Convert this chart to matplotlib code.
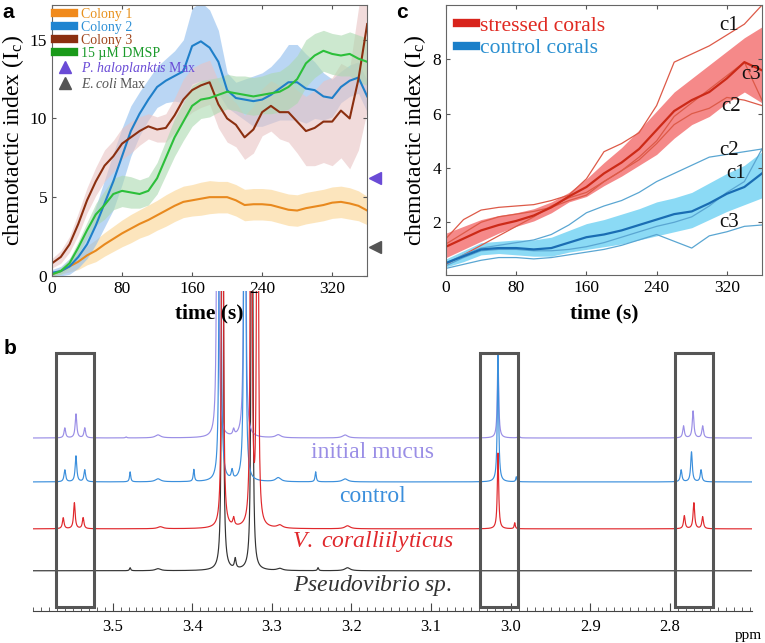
import numpy as np
import matplotlib.pyplot as plt
from matplotlib.lines import Line2D
from matplotlib.patches import Rectangle

plt.rcParams['font.family'] = ['Liberation Serif', 'DejaVu Serif']
plt.rcParams['mathtext.fontset'] = 'custom'
plt.rcParams['mathtext.rm'] = 'Liberation Serif'
plt.rcParams['mathtext.it'] = 'Liberation Serif:italic'

# ---------------- panel a data (chemotactic index vs time) ----------------
t_a = list(range(0, 361, 10))
colony1 = [0.1, 0.3, 0.6, 0.9, 1.3, 1.6, 2.0, 2.35, 2.7, 3.0, 3.3, 3.55, 3.85, 4.15, 4.45, 4.7, 4.8, 4.9, 5.0,
           5.0, 5.0, 4.8, 4.5, 4.55, 4.55, 4.5, 4.35, 4.2, 4.15, 4.3, 4.4, 4.5, 4.65, 4.7, 4.6, 4.45, 4.15]
colony1_sd = [0.1, 0.2, 0.35, 0.5, 0.6, 0.7, 0.75, 0.8, 0.85, 0.9, 0.9, 0.95, 0.95, 1.0, 1.0, 1.0, 1.0, 1.05, 1.05,
              1.0, 1.0, 1.0, 1.0, 1.0, 1.0, 1.0, 1.0, 1.0, 1.0, 1.0, 1.0, 1.0, 1.0, 1.0, 1.0, 0.95, 0.9]
colony2 = [0.2, 0.3, 0.6, 1.2, 2.0, 3.2, 4.6, 6.0, 7.6, 9.2, 10.3, 11.2, 12.0, 12.4, 12.7, 13.0, 14.6, 14.9, 14.5,
           13.6, 11.8, 11.3, 11.2, 11.1, 11.2, 11.5, 11.9, 12.3, 12.3, 11.9, 11.8, 11.4, 11.3, 12.0, 12.4, 12.6, 11.4]
colony2_sd = [0.2, 0.3, 0.5, 0.7, 0.9, 1.2, 1.5, 1.8, 1.8, 1.6, 1.4, 1.3, 1.3, 1.4, 1.6, 2.0, 2.4, 2.5, 2.4,
              2.0, 1.1, 1.0, 1.3, 1.6, 1.7, 1.8, 2.0, 2.4, 2.4, 2.2, 1.8, 1.5, 1.2, 1.0, 1.0, 1.0, 1.0]
colony3 = [0.8, 1.2, 2.0, 3.3, 4.8, 6.0, 7.0, 7.6, 8.4, 8.8, 9.2, 9.5, 9.3, 9.4, 10.2, 11.2, 11.8, 12.1, 12.3,
           10.9, 10.0, 9.6, 8.8, 9.3, 10.4, 10.8, 10.4, 10.4, 9.8, 9.2, 9.4, 9.8, 9.8, 10.5, 10.0, 12.5, 16.0]
colony3_sd = [0.3, 0.4, 0.5, 0.7, 0.8, 0.9, 1.0, 1.0, 1.0, 1.0, 0.9, 0.8, 0.8, 0.9, 1.1, 1.3, 1.4, 1.4, 1.4,
              1.5, 1.5, 1.4, 1.4, 1.5, 1.5, 1.6, 1.7, 1.9, 2.0, 2.2, 2.4, 2.6, 2.8, 3.0, 3.2, 4.5, 5.5]
dmsp = [0.1, 0.3, 0.8, 1.8, 2.9, 3.9, 4.5, 5.2, 5.4, 5.3, 5.2, 5.4, 6.2, 7.5, 8.8, 9.8, 10.8, 11.2, 11.3,
        11.5, 11.7, 11.6, 11.5, 11.4, 11.5, 11.6, 11.7, 12.0, 12.5, 13.5, 14.0, 14.3, 14.1, 14.0, 14.1, 13.8, 13.6]
dmsp_sd = [0.1, 0.2, 0.3, 0.4, 0.5, 0.7, 0.9, 1.0, 1.0, 1.0, 0.9, 0.9, 1.0, 1.1, 1.2, 1.2, 1.3, 1.2, 1.2,
           1.1, 1.1, 1.1, 1.2, 1.2, 1.2, 1.3, 1.3, 1.4, 1.5, 1.5, 1.4, 1.3, 1.3, 1.3, 1.4, 1.5, 1.5]
halo_max = 6.2
ecoli_max = 1.85

# ---------------- panel c data ----------------
t_c = list(range(0, 361, 20))
stressed_mean = [1.1, 1.4, 1.7, 1.9, 2.05, 2.25, 2.55, 2.95, 3.3, 3.8, 4.2, 4.7, 5.4, 6.1, 6.5, 6.8, 7.3, 7.9, 7.6]
stressed_lo = [0.7, 1.0, 1.3, 1.6, 1.85, 2.05, 2.35, 2.75, 2.95, 3.35, 3.7, 4.1, 4.5, 5.1, 5.6, 5.9, 6.4, 6.8, 6.4]
stressed_hi = [1.6, 1.85, 2.1, 2.25, 2.35, 2.5, 2.75, 3.1, 3.6, 4.2, 4.75, 5.4, 6.1, 6.8, 7.3, 7.8, 8.3, 8.8, 9.2]
stressed_c1 = [1.4, 2.1, 2.45, 2.55, 2.6, 2.65, 2.8, 3.0, 3.6, 4.6, 4.9, 5.3, 6.3, 7.9, 8.2, 8.5, 8.9, 9.3, 10.0]
stressed_c2 = [1.2, 1.6, 2.0, 2.2, 2.3, 2.4, 2.55, 2.8, 3.0, 3.5, 3.9, 4.3, 4.9, 5.6, 6.0, 6.2, 6.6, 6.5, 6.3]
stressed_c3 = [0.45, 0.8, 1.15, 1.5, 1.85, 2.2, 2.6, 2.9, 3.1, 3.5, 3.9, 4.4, 5.0, 5.9, 6.4, 6.9, 7.4, 7.9, 6.5]
control_mean = [0.5, 0.75, 1.0, 1.05, 1.05, 1.0, 1.05, 1.25, 1.45, 1.55, 1.7, 1.9, 2.1, 2.3, 2.4, 2.7, 3.05, 3.3, 3.8]
control_lo = [0.35, 0.55, 0.8, 0.85, 0.8, 0.75, 0.75, 0.9, 1.0, 1.1, 1.2, 1.35, 1.5, 1.65, 1.8, 2.1, 2.4, 2.65, 2.9]
control_hi = [0.65, 0.95, 1.25, 1.3, 1.35, 1.35, 1.45, 1.7, 1.95, 2.1, 2.3, 2.5, 2.75, 2.9, 3.1, 3.45, 3.8, 4.1, 4.6]
control_c1 = [0.4, 0.7, 0.95, 1.0, 1.0, 0.95, 0.95, 1.0, 1.1, 1.25, 1.45, 1.65, 1.85, 2.0, 2.2, 2.6, 3.1, 3.5, 4.7]
control_c2 = [0.5, 0.8, 1.05, 1.15, 1.25, 1.35, 1.55, 1.9, 2.35, 2.6, 2.8, 3.1, 3.5, 3.8, 4.1, 4.4, 4.5, 4.6, 4.7]
control_c3 = [0.3, 0.45, 0.6, 0.7, 0.7, 0.65, 0.7, 0.8, 0.9, 1.0, 1.15, 1.35, 1.55, 1.3, 1.05, 1.5, 1.65, 1.85, 1.9]
# curve labels: (text, time, value)
c_labels = [('c1', 323, 9.25), ('c3', 348, 7.45), ('c2', 325, 6.25),
            ('c2', 323, 4.65), ('c1', 331, 3.8), ('c3', 323, 2.0)]

# ---------------- panel b data (1H NMR peak tables: ppm, height, half width) ----------------
mucus_peaks = [(3.560, 10, 0.0012), (3.546, 24, 0.0012), (3.535, 10, 0.0012), (3.483, 1, 0.001),
               (3.443, 3, 0.004), (3.368, 1500, 0.0006), (3.348, 6, 0.0012), (3.334, 1500, 0.0006),
               (3.292, 3, 0.004), (3.208, 3, 0.004), (3.016, 84, 0.0010), (2.990, 4, 0.0008),
               (2.783, 12, 0.0012), (2.771, 27, 0.0012), (2.759, 12, 0.0012)]
control_peaks = [(3.560, 12, 0.0012), (3.546, 26, 0.0012), (3.535, 12, 0.0012), (3.478, 10, 0.0009),
                 (3.443, 3, 0.004), (3.398, 12, 0.0009), (3.365, 1500, 0.0006), (3.350, 9, 0.0012),
                 (3.334, 1500, 0.0006), (3.292, 4, 0.004), (3.245, 10, 0.0009), (3.208, 3, 0.004),
                 (3.016, 128, 0.0010), (2.993, 5, 0.0008),
                 (2.786, 12, 0.0012), (2.773, 30, 0.0012), (2.761, 12, 0.0012)]
vibrio_peaks = [(3.562, 11, 0.0012), (3.548, 26, 0.0012), (3.537, 11, 0.0012), (3.440, 2, 0.004),
                (3.362, 1500, 0.0006), (3.348, 8, 0.0012), (3.326, 1500, 0.0006), (3.318, 1500, 0.0006),
                (3.290, 3, 0.004), (3.205, 3, 0.004), (3.016, 76, 0.0010), (2.995, 6, 0.0008),
                (2.782, 13, 0.0012), (2.770, 26, 0.0012), (2.759, 12, 0.0012)]
pseudo_peaks = [(3.478, 3, 0.0009), (3.443, 2, 0.004), (3.362, 1500, 0.0006), (3.346, 10, 0.0012),
                (3.325, 1500, 0.0006), (3.290, 2, 0.004), (3.242, 3, 0.0009), (3.205, 3, 0.004)]
# name, peaks, colour, baseline offset, label height, drawing order
spectra = [(r'$\mathit{Pseudovibrio\,\,sp.}$', pseudo_peaks, '#333333', 40, 25, 1),
           ('initial mucus', mucus_peaks, '#9a8ee6', 173, 158, 2),
           ('control', control_peaks, '#3b8fdc', 129, 114, 3),
           (r'$\mathit{V.\,\,coralliilyticus}$', vibrio_peaks, '#e0282c', 82, 69, 4)]
boxes = [(3.571, 3.523), (3.0385, 2.9907), (2.7935, 2.7457)]

fig = plt.figure(figsize=(7.65, 6.43), dpi=100)

# ================= panel b (drawn first, transparent, so panel a/c text stays visible) =================
axb = fig.add_axes([0.0431, 0.0502, 0.9394, 0.4979])
axb.set_facecolor('none')
ppm = np.linspace(3.6, 2.69, 12000)
for name, peaks, col, base, ty, z in spectra:
    y = np.zeros_like(ppm)
    for p0, h, w in peaks:
        y += h * w ** 2 / ((ppm - p0) ** 2 + w ** 2)
    axb.plot(ppm, base + y, color=col, lw=0.85, zorder=z)
    axb.text(3.173, ty, name, color=col, fontsize=17, ha='center', va='center')
for x0, x1 in boxes:
    axb.add_patch(Rectangle((x1, 3.7), x0 - x1, 254, fill=False, ec='#555555', lw=2.2, zorder=6))
axb.set_xlim(3.6, 2.6975)
axb.set_ylim(0, 320.7)
axb.set_xticks(np.arange(3.5, 2.75, -0.1))
axb.set_xticklabels(['3.5', '3.4', '3.3', '3.2', '3.1', '3.0', '2.9', '2.8'])
axb.set_xticks(np.arange(3.6, 2.695, -0.01), minor=True)
axb.set_yticks([])
for s in ('top', 'left', 'right'):
    axb.spines[s].set_visible(False)
axb.spines['bottom'].set_color('#444')
axb.tick_params(axis='x', which='major', direction='in', length=6, labelsize=12, pad=6, color='#444')
axb.tick_params(axis='x', which='minor', direction='in', length=3, color='#444')
fig.text(748 / 765, 1 - 636 / 643, 'ppm', fontsize=11, ha='center', va='center')

# ================= panel a =================
ax = fig.add_axes([0.068, 0.571, 0.412, 0.421])
series_a = [(colony1, colony1_sd, '#e8891e', '#fbd592'),
            (colony2, colony2_sd, '#1f7fc9', '#8dbcee'),
            (colony3, colony3_sd, '#8b2f10', '#e9c3c3'),
            (dmsp, dmsp_sd, '#2cbf3a', '#abd9af')]
for m, s, lc, bc in series_a:
    m = np.array(m)
    s = np.array(s)
    ax.fill_between(t_a, m - s, m + s, color=bc, alpha=0.6, lw=0)
for m, s, lc, bc in series_a:
    ax.plot(t_a, m, color=lc, lw=1.5)
ax.plot([369], [halo_max], marker='<', color='#6a4bd6', ms=9, clip_on=False)
ax.plot([369], [ecoli_max], marker='<', color='#555555', ms=9, clip_on=False)
ax.set_xlim(0, 360)
ax.set_ylim(0, 17.2)
ax.set_xticks([0, 80, 160, 240, 320])
ax.set_yticks([0, 5, 10, 15])
ax.tick_params(direction='in', top=True, right=True, labelsize=12.5, length=3, color='#555')
for sp in ax.spines.values():
    sp.set_color('#666')
ax.set_xlabel('time (s)', fontsize=15.5, fontweight='bold', labelpad=5)
ax.set_ylabel(r'chemotactic index (I$_\mathrm{c}$)', fontsize=17, labelpad=3)

handles = [Line2D([], [], color='#f08a1c', lw=6),
           Line2D([], [], color='#1f84d0', lw=6),
           Line2D([], [], color='#8b2f10', lw=6),
           Line2D([], [], color='#1a9a1a', lw=6),
           Line2D([], [], color='#6a4bd6', marker='^', ls='', ms=8),
           Line2D([], [], color='#555555', marker='^', ls='', ms=8)]
labels = ['Colony 1', 'Colony 2', 'Colony 3', '15 \u00b5M DMSP',
          r'$\mathit{P.\,haloplanktis}$ Max', r'$\mathit{E.coli}$ Max']
ax.legend(handles, labels, loc='upper left', frameon=False, fontsize=10, handlelength=1.4,
          handletextpad=0.5, labelspacing=0.0, borderaxespad=0.1, borderpad=0.1,
          labelcolor=['#e8921e', '#2e90d6', '#a0451c', '#1a9a2a', '#6a4bd6', '#555555'])

# ================= panel c =================
axc = fig.add_axes([0.583, 0.572, 0.413, 0.42])
axc.fill_between(t_c, stressed_lo, stressed_hi, color='#f47c7c', alpha=0.9, lw=0)
axc.fill_between(t_c, control_lo, control_hi, color='#7fd6f4', alpha=0.9, lw=0)
for line in (stressed_c1, stressed_c2, stressed_c3):
    axc.plot(t_c, line, color='#dd5a48', lw=0.9)
for line in (control_c1, control_c2, control_c3):
    axc.plot(t_c, line, color='#5aa6d2', lw=0.9)
axc.plot(t_c, stressed_mean, color='#cc2a18', lw=1.6)
axc.plot(t_c, control_mean, color='#1a6db3', lw=1.6)
for txt, tx, ty in c_labels:
    axc.text(tx, ty, txt, fontsize=15, ha='center', va='center', color='#111')
axc.set_xlim(0, 360)
axc.set_ylim(0.05, 10)
axc.set_xticks([0, 80, 160, 240, 320])
axc.set_yticks([2, 4, 6, 8])
axc.tick_params(direction='in', top=True, right=True, labelsize=12.5, length=3, color='#555')
for sp in axc.spines.values():
    sp.set_color('#666')
axc.set_xlabel('time (s)', fontsize=15.5, fontweight='bold', labelpad=5)
axc.set_ylabel(r'chemotactic index (I$_\mathrm{c}$)', fontsize=17, labelpad=3)
hc = [Line2D([], [], color='#d8241c', lw=6), Line2D([], [], color='#1a7fc9', lw=6)]
axc.legend(hc, ['stressed corals', 'control corals'], loc='upper left', frameon=False, fontsize=15.5,
           handlelength=0.9, handletextpad=0.2, labelspacing=0.1, borderaxespad=0.3, borderpad=0.2,
           labelcolor=['#e02a22', '#2a8fd0'])

# panel letters
for letter, px, py in [('a', 8, 12), ('c', 402, 12), ('b', 10, 348)]:
    fig.text(px / 765, 1 - py / 643, letter, fontsize=15, fontweight='bold', family='Liberation Sans',
             ha='center', va='center')

fig.savefig('out.png', dpi=100)
